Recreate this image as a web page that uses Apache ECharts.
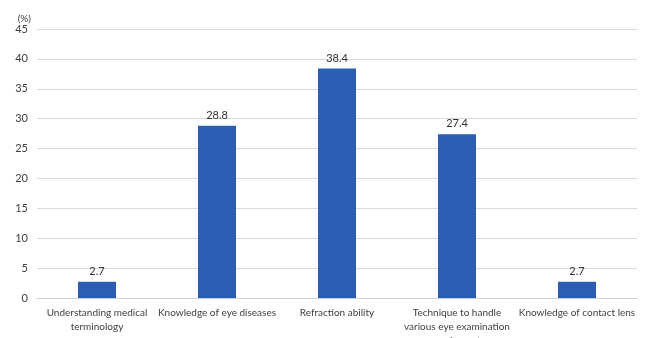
<!DOCTYPE html>
<html>
<head>
<meta charset="utf-8">
<style>
  html, body { margin: 0; padding: 0; background: #fff; }
  #chart { width: 648px; height: 338px; }
</style>
<script src="https://cdn.jsdelivr.net/npm/echarts@6/dist/echarts.min.js"></script>
</head>
<body>
<div id="chart"></div>
<script>
// Skills categories and share of respondents (%)
const categories = [
  'Understanding medical\nterminology',
  'Knowledge of eye diseases',
  'Refraction ability',
  'Technique to handle\nvarious eye examination\nequipment',
  'Knowledge of contact lens'
];
const values = [2.7, 28.8, 38.4, 27.4, 2.7];
const yTicks = { min: 0, max: 45, interval: 5 };

const chart = echarts.init(document.getElementById('chart'), null, { renderer: 'canvas' });
const font = 'Lato, "Open Sans", sans-serif';

chart.setOption({
  animation: false,
  grid: { left: 37, right: 11, top: 29, bottom: 40, containLabel: false, outerBoundsMode: 'none' },
  xAxis: {
    type: 'category',
    data: categories,
    axisLine: { lineStyle: { color: '#d0d0d0', width: 1 } },
    axisTick: { show: false },
    axisLabel: {
      interval: 0,
      margin: 8,
      color: '#404040',
      fontSize: 10,
      fontFamily: font,
      lineHeight: 14,
      align: 'center'
    }
  },
  yAxis: {
    type: 'value',
    min: yTicks.min,
    max: yTicks.max,
    interval: yTicks.interval,
    name: '(%)',
    nameLocation: 'end',
    nameGap: 4,
    nameTextStyle: { color: '#404040', fontSize: 10, fontFamily: font, align: 'right', padding: [0, 6, 0, 0] },
    axisLine: { show: false },
    axisTick: { show: false },
    axisLabel: { color: '#404040', fontSize: 11, fontFamily: font, margin: 9 },
    splitLine: { lineStyle: { color: '#d9d9d9', width: 1 } }
  },
  series: [{
    type: 'bar',
    data: values,
    barWidth: 38,
    itemStyle: { color: '#2a5db3' },
    label: {
      show: true,
      position: 'top',
      distance: 5,
      color: '#333',
      fontSize: 11,
      fontFamily: font,
      formatter: p => p.value.toFixed(1)
    }
  }]
});
</script>
</body>
</html>
